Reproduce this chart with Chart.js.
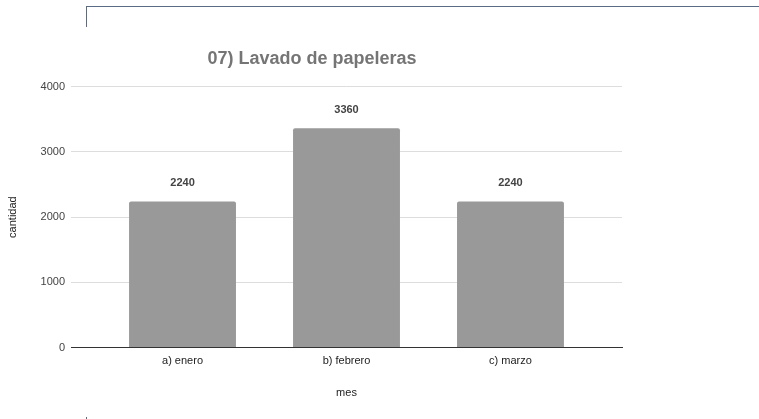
<!DOCTYPE html>
<html lang="es">
<head>
  <meta charset="UTF-8" />
  <title>07) Lavado de papeleras</title>
  <style>
    html, body { margin: 0; padding: 0; background: #fff; }
    #wrap { position: relative; width: 759px; height: 419px; }
    /* marco del recorte original */
    #frame {
      position: absolute; left: 86px; top: 6px; right: 0; height: 20px;
      border-top: 1px solid #5b6b86; border-left: 1px solid #5b6b86;
    }
    #dot { position: absolute; left: 86px; top: 417px; width: 1px; height: 2px; background: #5b6b86; }
    canvas { position: absolute; left: 0; top: 0; }
  </style>
</head>
<body>
  <div id="wrap">
    <canvas id="chart" width="759" height="419"></canvas>
    <div id="frame"></div>
    <div id="dot"></div>
  </div>

  <script src="https://cdn.jsdelivr.net/npm/chart.js"></script>
  <script>
    // datos
    const meses = ['a) enero', 'b) febrero', 'c) marzo'];
    const cantidad = [2240, 3360, 2240];
    const yTicks = [0, 1000, 2000, 3000, 4000];

    // etiquetas de valor encima de cada barra
    const valueLabels = {
      id: 'valueLabels',
      afterDatasetsDraw(chart) {
        const ctx = chart.ctx;
        const meta = chart.getDatasetMeta(0);
        ctx.save();
        ctx.font = 'bold 11px "Liberation Sans", Arial, sans-serif';
        ctx.fillStyle = '#444';
        ctx.textAlign = 'center';
        ctx.textBaseline = 'middle';
        meta.data.forEach((bar, i) => {
          ctx.fillText(String(cantidad[i]), bar.x, bar.y - 18);
        });
        ctx.restore();
      }
    };

    new Chart(document.getElementById('chart'), {
      type: 'bar',
      data: {
        datasets: [{
          data: cantidad.map((v, i) => ({ x: i, y: v })),
          backgroundColor: '#999999',
          borderRadius: 2,
          borderSkipped: 'bottom',
          categoryPercentage: 0.652,
          barPercentage: 1
        }]
      },
      options: {
        responsive: false,
        animation: false,
        layout: { padding: { left: 2, right: 137, top: 0, bottom: 19 } },
        plugins: {
          legend: { display: false },
          tooltip: { enabled: false },
          title: {
            display: true,
            text: '07) Lavado de papeleras',
            color: '#757575',
            font: { family: '"Liberation Sans", Arial, sans-serif', size: 18, weight: 'bold' },
            padding: { top: 48, bottom: 17 }
          }
        },
        scales: {
          x: {
            type: 'linear',
            offset: false,
            min: -0.68,
            max: 2.68,
            afterBuildTicks: (scale) => { scale.ticks = meses.map((_, i) => ({ value: i })); },
            ticks: {
              callback: (v) => meses[v],
              color: '#222',
              font: { family: '"Liberation Sans", Arial, sans-serif', size: 11 },
              padding: 7,
              maxRotation: 0
            },
            grid: { display: false, drawTicks: false },
            border: { display: true, color: '#333', width: 1 },
            title: {
              display: true,
              text: 'mes',
              color: '#222',
              font: { family: '"Liberation Sans", Arial, sans-serif', size: 11 },
              padding: { top: 12, bottom: 0 }
            }
          },
          y: {
            min: 0,
            max: 4000,
            afterBuildTicks: (scale) => { scale.ticks = yTicks.map(v => ({ value: v })); },
            afterFit: (scale) => { scale.width = 69; },
            ticks: {
              callback: (v) => String(v),
              color: '#444',
              font: { family: '"Liberation Sans", Arial, sans-serif', size: 11 },
              padding: 6
            },
            grid: { color: '#dddddd', drawTicks: false },
            border: { display: false },
            title: {
              display: true,
              text: 'cantidad',
              color: '#222',
              font: { family: '"Liberation Sans", Arial, sans-serif', size: 11 },
              padding: { top: 4, bottom: 0 }
            }
          }
        }
      },
      plugins: [valueLabels]
    });
  </script>
</body>
</html>
